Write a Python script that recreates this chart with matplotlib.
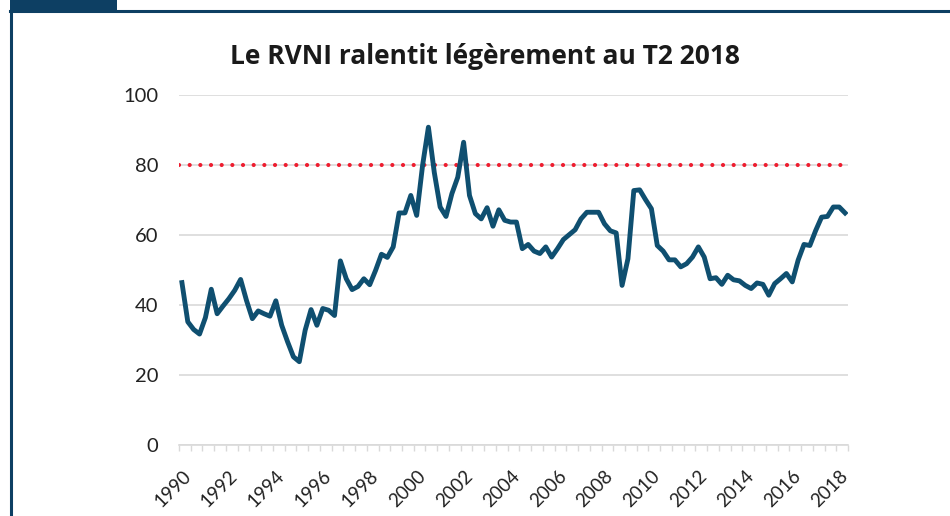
import matplotlib.pyplot as plt
import numpy as np
from matplotlib.patches import Rectangle
from matplotlib.lines import Line2D

# RVNI trimestriel, 1990T1 -> 2018T2
rvni = [46.4, 35.2, 33.0, 31.7, 36.4, 44.5, 37.5, 39.7, 41.8, 44.2,
        47.3, 41.3, 36.1, 38.3, 37.5, 36.8, 41.2, 34.2, 29.5, 25.2,
        23.8, 32.8, 38.7, 34.2, 39.0, 38.5, 37.0, 52.6, 47.5, 44.4,
        45.3, 47.5, 45.8, 49.9, 54.5, 53.6, 56.6, 66.3, 66.3, 71.3,
        65.6, 79.8, 90.8, 77.9, 68.0, 65.3, 71.8, 76.5, 86.5, 71.3,
        66.1, 64.6, 67.8, 62.5, 67.2, 64.2, 63.7, 63.7, 56.1, 57.3,
        55.4, 54.7, 56.6, 53.7, 56.1, 58.7, 60.1, 61.5, 64.6, 66.5,
        66.5, 66.5, 63.2, 61.2, 60.6, 45.6, 53.2, 72.7, 72.9, 70.1,
        67.5, 57.0, 55.4, 52.9, 52.9, 50.9, 51.8, 53.7, 56.6, 53.7,
        47.5, 47.8, 45.9, 48.5, 47.2, 46.9, 45.6, 44.7, 46.3, 45.9,
        42.8, 46.1, 47.5, 49.0, 46.6, 52.8, 57.3, 57.0, 61.3, 65.1,
        65.3, 68.0, 68.0, 66.3]
seuil = 80
annees = list(range(1990, 2019, 2))

navy = '#0d3f63'
ligne = '#0f4f70'

plt.rcParams['font.family'] = ['Lato', 'DejaVu Sans']

fig = plt.figure(figsize=(9.5, 5.16), dpi=100)
ax = fig.add_axes([179/950, 71/516, (848-179)/950, 350/516])

x = np.arange(len(rvni))
ax.axhline(seuil, color='#ee1d2f', linestyle=(0, (0.01, 2.55)), linewidth=3.0,
           dash_capstyle='round', zorder=3)
ax.plot(x, rvni, color=ligne, linewidth=3.5, solid_joinstyle='round', zorder=4)

ax.set_xlim(-0.5, len(rvni) - 0.5)
ax.set_ylim(0, 100)
ax.set_yticks(range(0, 101, 20))
ax.grid(axis='y', color='#d9d9d9', linewidth=1.2)
ax.set_axisbelow(True)
for s in ['top', 'right', 'left']:
    ax.spines[s].set_visible(False)
ax.spines['bottom'].set_color('#d9d9d9')
ax.spines['bottom'].set_linewidth(1.2)
ax.tick_params(axis='y', length=0, pad=15, labelsize=14.5, labelcolor='#222222')

# ticks tous les semestres, labels tous les deux ans
minor = np.arange(-0.5, len(rvni), 2)
ax.set_xticks(minor, minor=True)
ax.tick_params(axis='x', which='minor', length=4, color='#d9d9d9', width=1)
ax.set_xticks([(a - 1990) * 4 for a in annees])
ax.set_xticklabels([str(a) for a in annees], rotation=45, ha='right',
                   va='top', rotation_mode='anchor', fontsize=13.5,
                   color='#222222')
ax.tick_params(axis='x', which='major', length=0, pad=16)

fig.text(0.51, 0.89, 'Le RVNI ralentit légèrement au T2 2018', ha='center',
         va='center', fontsize=19, fontweight='bold', color='#1a1a1a',
         family=['Open Sans', 'DejaVu Sans'])

# cadre
fig.add_artist(Rectangle((10/950, 1 - 11/516), 107/950, 11/516,
                         transform=fig.transFigure, color=navy, lw=0))
fig.add_artist(Line2D([10/950, 1], [1 - 11/516, 1 - 11/516],
                      transform=fig.transFigure, color=navy, lw=2.2))
fig.add_artist(Line2D([11/950, 11/950], [0, 1 - 11/516],
                      transform=fig.transFigure, color=navy, lw=2.2))

fig.savefig('out.png', dpi=100)
